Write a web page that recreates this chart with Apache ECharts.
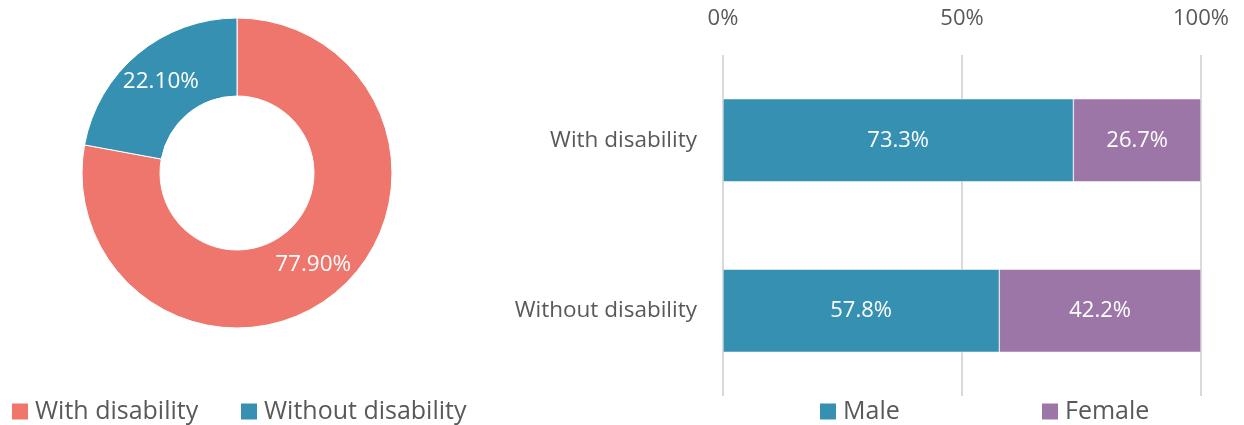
<!DOCTYPE html>
<html><head><meta charset="utf-8">
<script src="https://cdn.jsdelivr.net/npm/echarts@6/dist/echarts.min.js"></script>
<style>html,body{margin:0;padding:0;background:#fff}#c{width:1244px;height:425px}</style>
</head><body><div id="c"></div>
<script>
const pieNames = ["With disability", "Without disability"];
const pieValues = [77.9, 22.1];
const categories = ["With disability", "Without disability"];
const maleValues = [73.3, 57.8];
const femaleValues = [26.7, 42.2];
const xTicks = [0, 50, 100];

const FONT = '"Open Sans", "Noto Sans", sans-serif';
const TXT = '#595959';
const RED = '#EE766C', BLUE = '#3690B2', PURPLE = '#9D76A8';

const chart = echarts.init(document.getElementById('c'), null, {renderer: 'canvas'});
function leg(name, left, color) {
  return {
    data: [{name: name, itemStyle: {color: color}}], left: left, top: 399, padding: 0,
    icon: 'rect', itemWidth: 18, itemHeight: 18, selectedMode: false,
    textStyle: {fontFamily: FONT, fontSize: 25, color: TXT, padding: [0, 0, 0, 1]},
    itemGap: 0
  };
}
chart.setOption({
  animation: false,
  textStyle: {fontFamily: FONT},
  legend: [
    leg(pieNames[0], 10, RED),
    leg(pieNames[1], 239, BLUE),
    leg('Male', 818, BLUE),
    leg('Female', 1040, PURPLE)
  ],
  grid: {left: 723, right: 43, top: 55, bottom: 29, containLabel: false},
  xAxis: {
    type: 'value', position: 'top', min: 0, max: 100, interval: 50,
    axisLine: {show: false}, axisTick: {show: false},
    splitLine: {show: true, lineStyle: {color: '#D9D9D9', width: 2}},
    axisLabel: {formatter: v => v + '%', fontFamily: FONT, fontSize: 22, color: TXT, margin: 25}
  },
  yAxis: {
    type: 'category', data: categories, inverse: true,
    axisLine: {show: false}, axisTick: {show: false},
    axisLabel: {fontFamily: FONT, fontSize: 22.5, color: TXT, margin: 26}
  },
  series: [
    {
      type: 'pie', center: [237, 173], radius: [77, 155], startAngle: 90, clockwise: true,
      label: {show: true, position: 'inside', formatter: p => p.value.toFixed(2) + '%',
        color: '#fff', fontFamily: FONT, fontSize: 22.5},
      labelLine: {show: false},
      itemStyle: {borderColor: '#fff', borderWidth: 1},
      data: pieNames.map((n, i) => ({name: n, value: pieValues[i], itemStyle: {color: i === 0 ? RED : BLUE}}))
    },
    {
      type: 'bar', name: 'Male', stack: 's', data: maleValues, barWidth: 83,
      itemStyle: {color: BLUE, borderColor: '#fff', borderWidth: 0.5},
      label: {show: true, position: 'inside', formatter: p => p.value.toFixed(1) + '%', color: '#fff', fontFamily: FONT, fontSize: 22}
    },
    {
      type: 'bar', name: 'Female', stack: 's', data: femaleValues, barWidth: 83,
      itemStyle: {color: PURPLE, borderColor: '#fff', borderWidth: 0.5},
      label: {show: true, position: 'inside', formatter: p => p.value.toFixed(1) + '%', color: '#fff', fontFamily: FONT, fontSize: 22}
    }
  ]
});
</script></body></html>
